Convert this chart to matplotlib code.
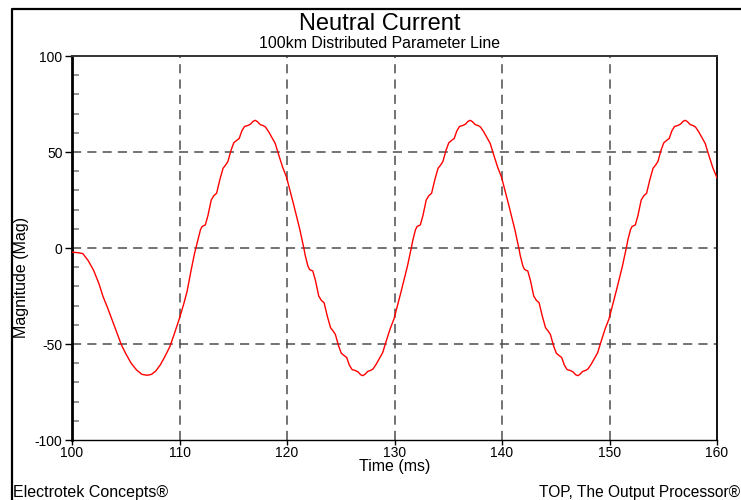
import matplotlib
matplotlib.use("Agg")
import matplotlib.pyplot as plt
from matplotlib.lines import Line2D
from matplotlib.ticker import MultipleLocator

plt.rcParams['font.family'] = ['Liberation Sans', 'DejaVu Sans']
plt.rcParams['axes.unicode_minus'] = False

# neutral current (time in ms, magnitude)
t_ms = [
    100.0, 100.5, 101.0, 101.5, 102.0, 102.5, 102.9, 103.3, 103.7, 104.2,
    104.6, 105.0, 105.5, 106.0, 106.5, 107.0, 107.4, 107.8, 108.2, 108.6,
    109.1, 109.5, 110.0, 110.4, 110.7, 111.1, 111.4,
    # 1st positive half
    111.7, 111.95, 112.1, 112.4, 112.65, 112.95, 113.2, 113.45, 113.75, 114.05,
    114.3, 114.5, 114.8, 115.05, 115.35, 115.55, 115.8, 116.05, 116.35, 116.6,
    116.85, 117.05, 117.25, 117.5, 117.8, 118.0, 118.3, 118.6, 118.9, 119.2,
    119.6, 119.95, 120.3, 120.6, 120.9, 121.2, 121.6,
    # 1st negative half
    121.7, 121.95, 122.1, 122.4, 122.65, 122.95, 123.2, 123.45, 123.75, 124.05,
    124.3, 124.5, 124.8, 125.05, 125.35, 125.55, 125.8, 126.05, 126.35, 126.6,
    126.85, 127.05, 127.25, 127.5, 127.8, 128.0, 128.3, 128.6, 128.9, 129.2,
    129.6, 129.95, 130.3, 130.6, 130.9, 131.2, 131.6,
    # 2nd positive half
    131.7, 131.95, 132.1, 132.4, 132.65, 132.95, 133.2, 133.45, 133.75, 134.05,
    134.3, 134.5, 134.8, 135.05, 135.35, 135.55, 135.8, 136.05, 136.35, 136.6,
    136.85, 137.05, 137.25, 137.5, 137.8, 138.0, 138.3, 138.6, 138.9, 139.2,
    139.6, 139.95, 140.3, 140.6, 140.9, 141.2, 141.6,
    # 2nd negative half
    141.7, 141.95, 142.1, 142.4, 142.65, 142.95, 143.2, 143.45, 143.75, 144.05,
    144.3, 144.5, 144.8, 145.05, 145.35, 145.55, 145.8, 146.05, 146.35, 146.6,
    146.85, 147.05, 147.25, 147.5, 147.8, 148.0, 148.3, 148.6, 148.9, 149.2,
    149.6, 149.95, 150.3, 150.6, 150.9, 151.2, 151.6,
    # 3rd positive half (cut at 160)
    151.7, 151.95, 152.1, 152.4, 152.65, 152.95, 153.2, 153.45, 153.75, 154.05,
    154.3, 154.5, 154.8, 155.05, 155.35, 155.55, 155.8, 156.05, 156.35, 156.6,
    156.85, 157.05, 157.25, 157.5, 157.8, 158.0, 158.3, 158.6, 158.9, 159.2,
    159.6, 160.0,
]

mag = [
    -2.2, -2.4, -2.9, -6.5, -11.5, -18.5, -25.5, -31, -37, -44.5,
    -50.5, -55, -60, -63.5, -65.8, -66.3, -65.8, -64, -61, -57,
    -51.4, -45, -36.6, -29, -22.7, -11, -2.8,
    4, 9.5, 11.2, 12, 17, 25, 27.3, 28.5, 35.5, 41.5,
    43.3, 45, 51, 54.8, 56.2, 57, 61, 63.3, 63.8, 64.5,
    66, 66.5, 65.8, 64.3, 63.7, 63, 60.5, 57.5, 54.5, 49,
    42, 37, 29.5, 23, 16.3, 9.5, -1,
    -4, -9.5, -11.2, -12, -17, -25, -27.3, -28.5, -35.5, -41.5,
    -43.3, -45, -51, -54.8, -56.2, -57, -61, -63.3, -63.8, -64.5,
    -66, -66.5, -65.8, -64.3, -63.7, -63, -60.5, -57.5, -54.5, -49,
    -42, -37, -29.5, -23, -16.3, -9.5, 1,
    4, 9.5, 11.2, 12, 17, 25, 27.3, 28.5, 35.5, 41.5,
    43.3, 45, 51, 54.8, 56.2, 57, 61, 63.3, 63.8, 64.5,
    66, 66.5, 65.8, 64.3, 63.7, 63, 60.5, 57.5, 54.5, 49,
    42, 37, 29.5, 23, 16.3, 9.5, -1,
    -4, -9.5, -11.2, -12, -17, -25, -27.3, -28.5, -35.5, -41.5,
    -43.3, -45, -51, -54.8, -56.2, -57, -61, -63.3, -63.8, -64.5,
    -66, -66.5, -65.8, -64.3, -63.7, -63, -60.5, -57.5, -54.5, -49,
    -42, -37, -29.5, -23, -16.3, -9.5, 1,
    4, 9.5, 11.2, 12, 17, 25, 27.3, 28.5, 35.5, 41.5,
    43.3, 45, 51, 54.8, 56.2, 57, 61, 63.3, 63.8, 64.5,
    66, 66.5, 65.8, 64.3, 63.7, 63, 60.5, 57.5, 54.5, 49,
    42, 36.5,
]

x_ticks = [100, 110, 120, 130, 140, 150, 160]
y_ticks = [-100, -50, 0, 50, 100]

W, H = 741, 500
fig = plt.figure(figsize=(W / 100, H / 100), dpi=100)
ax = fig.add_axes([72 / W, 1 - 440 / H, (717 - 72) / W, (440 - 56) / H])

# dashed grid only on the inner ticks, the frame edges stay solid
grid_style = dict(color='#4d4d4d', lw=1.1, linestyle=(0, (6, 4)), zorder=1)
for xv in x_ticks[1:-1]:
    ax.axvline(xv, **grid_style)
for yv in y_ticks[1:-1]:
    ax.axhline(yv, **grid_style)

ax.plot(t_ms, mag, color='#ff0000', lw=1.0, zorder=3)

ax.set_xlim(100, 160)
ax.set_ylim(-100, 100)
ax.set_xticks(x_ticks)
ax.set_yticks(y_ticks)
ax.yaxis.set_minor_locator(MultipleLocator(10))

ax.tick_params(axis='x', which='major', direction='out', length=3.6, width=1,
               pad=0.5, labelsize=10)
ax.tick_params(axis='y', which='major', direction='out', length=4.8, width=1,
               pad=2, labelsize=10)
ax.tick_params(axis='y', which='minor', direction='in', length=5, width=1.1,
               color='#777777')

ax.spines['left'].set_linewidth(2)
ax.spines['left'].set_color('black')
ax.spines['bottom'].set_linewidth(1)
ax.spines['bottom'].set_color('black')
ax.spines['top'].set_linewidth(1.4)
ax.spines['top'].set_color('#333333')
ax.spines['right'].set_linewidth(1.4)
ax.spines['right'].set_color('#111111')

# titles and labels
fig.text(380 / W, 1 - 30 / H, "Neutral Current", ha='center', va='baseline',
         fontsize=17)
fig.text(380 / W, 1 - 48 / H, "100km Distributed Parameter Line",
         ha='center', va='baseline', fontsize=11.4)
fig.text(395 / W, 1 - 471 / H, "Time (ms)", ha='center', va='baseline',
         fontsize=11.5)
fig.text(21.7 / W, 1 - 277 / H, "Magnitude (Mag)", ha='center', va='center',
         rotation=90, fontsize=11.5)
fig.text(13.5 / W, 1 - 497 / H, "Electrotek Concepts\u00ae", ha='left',
         va='baseline', fontsize=11.5)
fig.text(539 / W, 1 - 497 / H, "TOP, The Output Processor\u00ae", ha='left',
         va='baseline', fontsize=11.2)

# outer frame (runs off the right and bottom edge)
x0 = 12 / W
y0 = 1 - 9.3 / H
fig.add_artist(Line2D([x0, x0, 1.1], [-0.1, y0, y0], transform=fig.transFigure,
                      color='black', lw=1.6))

fig.savefig("out.png", dpi=100)
